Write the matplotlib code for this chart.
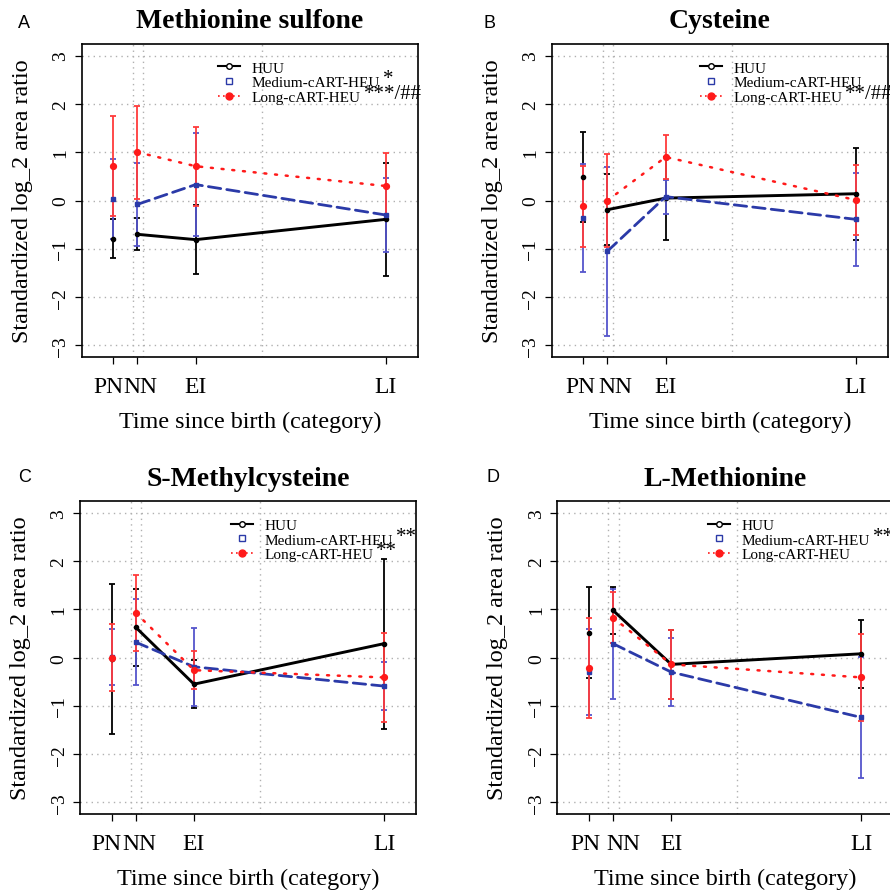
import matplotlib
matplotlib.use("Agg")
import matplotlib.pyplot as plt
from matplotlib.lines import Line2D
from matplotlib.transforms import ScaledTranslation, blended_transform_factory

plt.rcParams['font.family'] = ['Liberation Serif', 'DejaVu Serif']

# time categories and their positions on the time axis
categories = ['PN', 'NN', 'EI', 'LI']
time_pos = [0, 1, 3.43, 11.35]
grid_x = [0.81, 1.23, 6.18]

groups = ['HUU', 'Medium-cART-HEU', 'Long-cART-HEU']

titles = ['Methionine sulfone', 'Cysteine', 'S-Methylcysteine', 'L-Methionine']
letters = ['A', 'B', 'C', 'D']
# significance marks after the legend labels (medium, long)
sig_medium = ['*', '', '**', '**']
sig_long = ['***/##', '**/##', '**', '']

# means and half-widths of error bars, per panel, per group (PN, NN, EI, LI)
huu_mean = [[-0.79, -0.70, -0.81, -0.39],
            [0.48, -0.19, 0.05, 0.14],
            [-0.03, 0.63, -0.55, 0.29],
            [0.52, 0.98, -0.14, 0.08]]
huu_err = [[0.40, 0.33, 0.72, 1.17],
           [0.93, 0.73, 0.86, 0.95],
           [1.56, 0.80, 0.50, 1.76],
           [0.95, 0.48, 0.72, 0.70]]
med_mean = [[0.03, -0.08, 0.33, -0.30],
            [-0.37, -1.05, 0.08, -0.39],
            [0.01, 0.32, -0.19, -0.59],
            [-0.29, 0.29, -0.30, -1.24]]
med_err = [[0.82, 0.86, 1.06, 0.77],
           [1.12, 1.75, 0.35, 0.96],
           [0.58, 0.89, 0.81, 0.50],
           [0.89, 1.14, 0.70, 1.26]]
long_mean = [[0.71, 1.00, 0.71, 0.30],
             [-0.12, 0.00, 0.90, 0.01],
             [0.00, 0.93, -0.26, -0.41],
             [-0.21, 0.83, -0.14, -0.41]]
long_err = [[1.03, 0.96, 0.82, 0.68],
            [0.84, 0.97, 0.46, 0.72],
            [0.69, 0.79, 0.40, 0.92],
            [1.04, 0.52, 0.71, 0.91]]

BLACK = '#000000'
BLUE = '#2b3aa8'
BLUE_ERR = '#5555cc'
RED = '#ff1a1a'
RED_ERR = '#ff3b3b'

W, H = 890, 895
# axes rectangles [left, bottom, width, height] in figure fraction
rects = [[0.0918, 0.600, 0.3775, 0.3497],
         [0.6199, 0.600, 0.3775, 0.3497],
         [0.0899, 0.0894, 0.3775, 0.3494],
         [0.6262, 0.0894, 0.3775, 0.3494]]
letter_xy = [(18, 28), (484, 28), (18, 482), (486, 482)]
legend_x = [0.388, 0.422, 0.43, 0.43]
label_shift = [(-5, 3), (-3, 8), (-5, 4), (-4, 10)]

fig = plt.figure(figsize=(W / 100, H / 100), dpi=100)

legends = []
for i in range(4):
    ax = fig.add_axes(rects[i])
    ax.set_xlim(-1.32, 12.68)
    ax.set_ylim(-3.24, 3.24)

    for g in grid_x:
        ax.axvline(g, color='#b0b0b0', lw=1.0, ls=(0, (1, 3)), zorder=0)
    for yv in range(-3, 4):
        ax.axhline(yv, color='#b0b0b0', lw=1.0, ls=(0, (1, 3)), zorder=0)

    series = [(huu_mean[i], huu_err[i], BLACK, BLACK, '-', 'o', 3.0, 2.1),
              (med_mean[i], med_err[i], BLUE, BLUE_ERR, (0, (4.5, 2.2)), 's', 3.2, 2.0),
              (long_mean[i], long_err[i], RED, RED_ERR, (0, (0.8, 3.5)), 'o', 4.2, 1.8)]
    for k, (m, e, col, ecol, ls, mk, ms, lw) in enumerate(series):
        ax.errorbar(time_pos, m, yerr=e, fmt='none', ecolor=ecol, elinewidth=1.3,
                    capsize=2.5, capthick=1.3, zorder=2 + k)
        # lines join only the postnatal time points
        ax.plot(time_pos[1:], m[1:], color=col, ls=ls, lw=lw, zorder=5 + k,
                dash_capstyle='round')
        ax.plot(time_pos, m, ls='none', marker=mk, ms=ms, color=col, zorder=8 + k)

    # x tick labels drawn as texts so that PN / NN can sit apart
    ax.set_xticks(time_pos)
    ax.set_xticklabels([])
    trans = blended_transform_factory(ax.transData, ax.transAxes)
    for j, cat in enumerate(categories):
        dx = label_shift[i][j] if j < 2 else 0
        off = ScaledTranslation(dx / 100, -34.7 / 100, fig.dpi_scale_trans)
        ax.text(time_pos[j], 0, cat, transform=trans + off, fontsize=17,
                ha='center', va='baseline')

    ax.set_yticks(range(-3, 4))
    ax.set_yticklabels([str(v).replace('-', '\u2212') for v in range(-3, 4)],
                       fontsize=14, rotation=90, va='center')
    ax.tick_params(axis='x', direction='out', length=5, width=0.9)
    ax.tick_params(axis='y', direction='out', length=5, width=0.9, pad=4)
    for sp in ax.spines.values():
        sp.set_linewidth(1.2)

    ax.set_xlabel('Time since birth (category)', fontsize=17.4, va='baseline')
    ax.xaxis.set_label_coords(0.5, -0.224)
    ax.set_ylabel('Standardized log_2 area ratio', fontsize=17.4)
    ax.yaxis.set_label_coords(-0.146, 0.5)
    ax.set_title(titles[i], fontsize=20, fontweight='bold', pad=12)
    lx, ly = letter_xy[i]
    fig.text(lx / W, 1 - ly / H, letters[i], fontsize=13,
             family='Liberation Sans', va='baseline', ha='left')

    handles = [Line2D([], [], color=BLACK, lw=1.5, marker='o', ms=4,
                      mfc='white', mec=BLACK),
               Line2D([], [], ls='none', marker='s', ms=4.5, mfc='white',
                      mec=BLUE, mew=1.0),
               Line2D([], [], color=RED, lw=1.2, ls=(0, (1, 2)), marker='o',
                      ms=5, mfc=RED, mec=RED)]
    leg = ax.legend(handles, groups, loc='upper left',
                    bbox_to_anchor=(legend_x[i], 0.965), frameon=False,
                    fontsize=11, handlelength=1.45, handletextpad=0.75,
                    labelspacing=0.06, borderaxespad=0.0)
    legends.append(leg)

# significance marks placed after the rendered legend labels
fig.canvas.draw()
inv = fig.transFigure.inverted()
for i, leg in enumerate(legends):
    texts = leg.get_texts()
    for t, s in ((texts[1], sig_medium[i]), (texts[2], sig_long[i])):
        if not s:
            continue
        bb = t.get_window_extent()
        x, y = inv.transform((bb.x1 + 3, bb.y0 + 1))
        fig.text(x, y, s, fontsize=15, ha='left', va='bottom')

fig.savefig('out.png', dpi=100, facecolor='white')
